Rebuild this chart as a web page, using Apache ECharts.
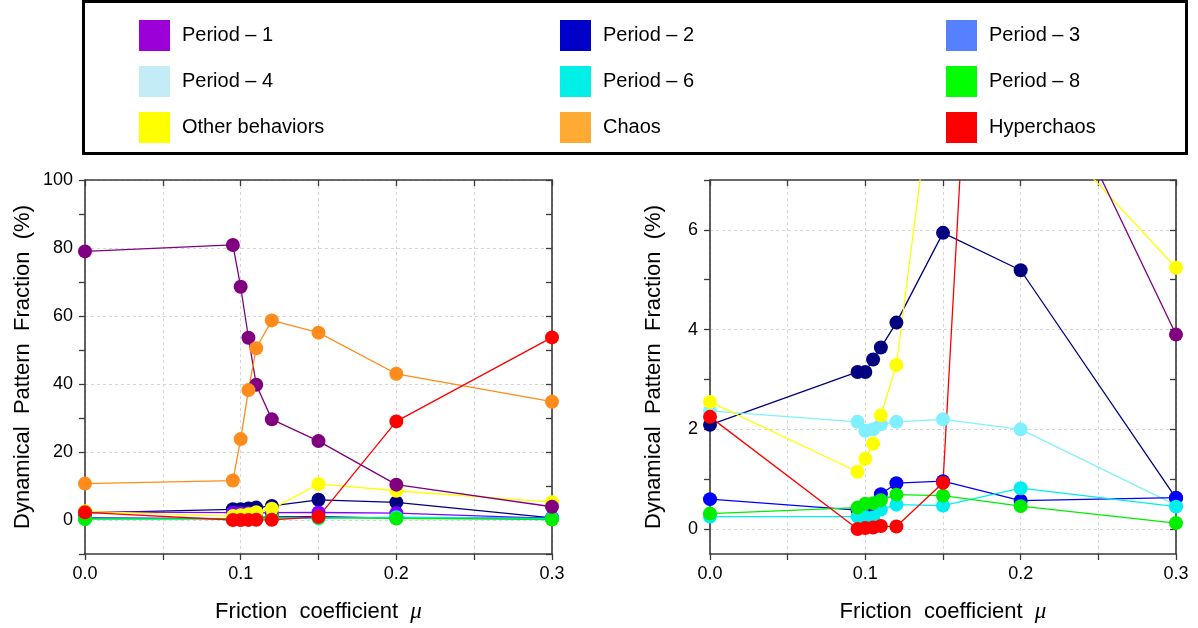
<!DOCTYPE html>
<html>
<head>
<meta charset="utf-8">
<script src="https://cdn.jsdelivr.net/npm/echarts@6/dist/echarts.min.js"></script>
<style>
html,body{margin:0;padding:0;background:#fff;}
#chart{width:1198px;height:628px;}
</style>
</head>
<body>
<div id="chart"></div>
<script>
// ---- data ----
const mu = [0, 0.095, 0.1, 0.105, 0.11, 0.12, 0.15, 0.2, 0.3];
const period1 = [79.0, 80.9, 68.6, 53.6, 39.8, 29.6, 23.2, 10.4, 3.9];
const period2 = [2.09, 3.15, 3.15, 3.40, 3.64, 4.14, 5.94, 5.19, 0.62];
const period3 = [0.60, 0.38, 0.35, 0.35, 0.70, 0.92, 0.96, 0.57, 0.63];
const period4 = [2.37, 2.15, 1.97, 2.00, 2.10, 2.15, 2.20, 2.00, 0.48];
const period6 = [0.25, 0.25, 0.24, 0.23, 0.39, 0.49, 0.47, 0.82, 0.45];
const period8 = [0.31, 0.43, 0.51, 0.52, 0.58, 0.69, 0.67, 0.46, 0.12];
const otherBehaviors = [2.55, 1.15, 1.41, 1.71, 2.28, 3.29, 10.6, 8.6, 5.24];
const chaos = [10.7, 11.6, 23.8, 38.2, 50.5, 58.7, 55.1, 43.0, 34.8];
const hyperchaos = [2.25, 0.00, 0.02, 0.03, 0.06, 0.05, 0.93, 29.0, 53.7];

const names = ['Period – 1','Period – 2','Period – 3','Period – 4','Period – 6','Period – 8','Other behaviors','Chaos','Hyperchaos'];
const xTickLabels = [0.0, 0.1, 0.2, 0.3];
const yLabelsLeft = [0, 20, 40, 60, 80, 100];
const yLabelsRight = [0, 2, 4, 6];
const yTicksRight = [0, 1, 2, 3, 4, 5, 6, 7];

// ---- styles ----
const FONT = 'Liberation Sans, Arial, sans-serif';
const legendColors = {
  'Period – 1':'#9b00d9','Period – 2':'#0000c8','Period – 3':'#5580ff',
  'Period – 4':'#c4ecf6','Period – 6':'#00f0e8','Period – 8':'#00ff00',
  'Other behaviors':'#ffff00','Chaos':'#ffaa33','Hyperchaos':'#ff0000'
};
const lineColorsLeft = {
  'Period – 1':'#800080','Period – 2':'#000080','Period – 3':'#0000ff',
  'Period – 4':'#8000ff','Period – 6':'#00eeee','Period – 8':'#00ee00',
  'Other behaviors':'#ffff00','Chaos':'#ff8c1a','Hyperchaos':'#ff0000'
};
const lineColorsRight = Object.assign({}, lineColorsLeft, {'Period – 4':'#80f0ff'});

const seriesData = {
  'Period – 1':period1,'Period – 2':period2,'Period – 3':period3,'Period – 4':period4,
  'Period – 6':period6,'Period – 8':period8,'Other behaviors':otherBehaviors,'Chaos':chaos,'Hyperchaos':hyperchaos
};
const drawOrder = ['Period – 2','Period – 4','Period – 3','Period – 6','Period – 8','Other behaviors','Period – 1','Chaos','Hyperchaos'];

const AX = '#3a3a3a';
const GRIDC = '#d6d6d6';
const T = 'rgba(0,0,0,0)';

function mkSeries(name, colors, xi, yi) {
  const c = colors[name];
  const d = seriesData[name];
  return {
    name: name, type: 'line', xAxisIndex: xi, yAxisIndex: yi,
    data: mu.map((x, i) => [x, d[i]]),
    symbol: 'circle', symbolSize: 14, showSymbol: true,
    lineStyle: {color: c, width: 1.3}, itemStyle: {color: c, borderWidth: 0},
    emphasis: {disabled: true}, clip: true, animation: false
  };
}

function xFmt(v) {
  for (const t of xTickLabels) if (Math.abs(v - t) < 1e-6) return t.toFixed(1);
  return '';
}

const xName = '{n|Friction  coefficient  }{m|μ}';
const xNameStyle = {color:'#000', rich:{n:{fontSize:22, fontFamily:FONT, color:'#000'}, m:{fontSize:23, fontFamily:'Liberation Serif, serif', fontStyle:'italic', color:'#000'}}};
const yName = 'Dynamical  Pattern  Fraction  (%)';

function xMain(grid) {
  return {
    gridIndex: grid, type: 'value', position: 'bottom', min: 0, max: 0.3, interval: 0.05,
    axisLine: {show: true, onZero: false, lineStyle: {color: AX, width: 1.6}},
    axisTick: {show: true, inside: false, length: 6, lineStyle: {color: AX, width: 1.3}},
    axisLabel: {formatter: xFmt, fontSize: 18, fontFamily: FONT, color: '#000', margin: 11, showMinLabel: true, showMaxLabel: true},
    splitLine: {show: true, lineStyle: {color: GRIDC, type: [3, 3], width: 1}},
    name: xName, nameLocation: 'middle', nameGap: 46, nameTextStyle: xNameStyle
  };
}
function xTop(grid) {
  return {
    gridIndex: grid, type: 'value', position: 'top', min: 0, max: 0.3, interval: 0.05,
    axisLine: {show: true, onZero: false, lineStyle: {color: AX, width: 1.6}},
    axisTick: {show: true, inside: true, length: 6, lineStyle: {color: AX, width: 1.3}},
    axisLabel: {show: false}, splitLine: {show: false}
  };
}

const option = {
  backgroundColor: '#fff',
  animation: false,
  textStyle: {fontFamily: FONT},
  graphic: [{
    type: 'rect', z: 100, silent: true,
    shape: {x: 83.5, y: 1.5, width: 1103, height: 152},
    style: {fill: 'none', stroke: '#000', lineWidth: 3}
  }],
  legend: [
    ['Period – 1','Period – 4','Other behaviors'],
    ['Period – 2','Period – 6','Chaos'],
    ['Period – 3','Period – 8','Hyperchaos']
  ].map((col, ci) => ({
    orient: 'vertical', left: [139, 560, 946][ci], top: 20, padding: 0,
    itemWidth: 31, itemHeight: 31, itemGap: 15, icon: 'rect', selectedMode: false,
    textStyle: {fontSize: 20, fontFamily: FONT, color: '#000', padding: [0, 0, 0, 7]},
    data: col.map(n => ({name: n, icon: 'rect', itemStyle: {color: legendColors[n], borderWidth: 0}}))
  })),
  grid: [
    {left: 85, right: 646, top: 180, bottom: 70, containLabel: false},
    {left: 710, right: 22, top: 180, bottom: 70, containLabel: false}
  ],
  xAxis: [xMain(0), xTop(0), xMain(1), xTop(1)],
  yAxis: [
    { // left chart main
      gridIndex: 0, type: 'value', position: 'left', min: -10, max: 100, interval: 10,
      axisLine: {show: true, onZero: false, lineStyle: {color: AX, width: 1.6}},
      axisTick: {show: true, inside: false, length: 6, lineStyle: {color: AX, width: 1.3}},
      axisLabel: {formatter: v => (yLabelsLeft.indexOf(Math.round(v)) >= 0 && Math.abs(v - Math.round(v)) < 1e-6 ? String(Math.round(v)) : ''),
                  fontSize: 18, fontFamily: FONT, color: '#000', margin: 12},
      splitLine: {show: true, lineStyle: {color: [T, GRIDC], type: [3, 3], width: 1}},
      name: yName, nameLocation: 'middle', nameGap: 51,
      nameTextStyle: {fontSize: 22, fontFamily: FONT, color: '#000'}
    },
    { // left chart right mirror
      gridIndex: 0, type: 'value', position: 'right', min: -10, max: 100, interval: 10,
      axisLine: {show: true, onZero: false, lineStyle: {color: AX, width: 1.6}},
      axisTick: {show: true, inside: true, length: 6, lineStyle: {color: AX, width: 1.3}},
      axisLabel: {show: false}, splitLine: {show: false}
    },
    { // right chart main
      gridIndex: 1, type: 'value', position: 'left', min: -0.5, max: 7,
      axisLine: {show: true, onZero: false, lineStyle: {color: AX, width: 1.6}},
      axisTick: {show: true, inside: false, length: 6, customValues: yTicksRight, lineStyle: {color: AX, width: 1.3}},
      axisLabel: {customValues: yLabelsRight, fontSize: 18, fontFamily: FONT, color: '#000', margin: 12},
      splitLine: {show: false},
      name: yName, nameLocation: 'middle', nameGap: 45,
      nameTextStyle: {fontSize: 22, fontFamily: FONT, color: '#000'}
    },
    { // right chart grid-line helper
      gridIndex: 1, type: 'value', position: 'left', min: -0.5, max: 7, interval: 0.5,
      axisLine: {show: false}, axisTick: {show: false}, axisLabel: {show: false},
      splitLine: {show: true, lineStyle: {color: [T, GRIDC, T, T], type: [3, 3], width: 1}}
    },
    { // right chart right mirror
      gridIndex: 1, type: 'value', position: 'right', min: -0.5, max: 7,
      axisLine: {show: true, onZero: false, lineStyle: {color: AX, width: 1.6}},
      axisTick: {show: true, inside: true, length: 6, customValues: yTicksRight, lineStyle: {color: AX, width: 1.3}},
      axisLabel: {show: false}, splitLine: {show: false}
    }
  ],
  series: [].concat(
    drawOrder.map(n => mkSeries(n, lineColorsLeft, 0, 0)),
    drawOrder.map(n => mkSeries(n, lineColorsRight, 2, 2))
  )
};

const chart = echarts.init(document.getElementById('chart'), null, {renderer: 'canvas'});
chart.setOption(option);
</script>
</body>
</html>
